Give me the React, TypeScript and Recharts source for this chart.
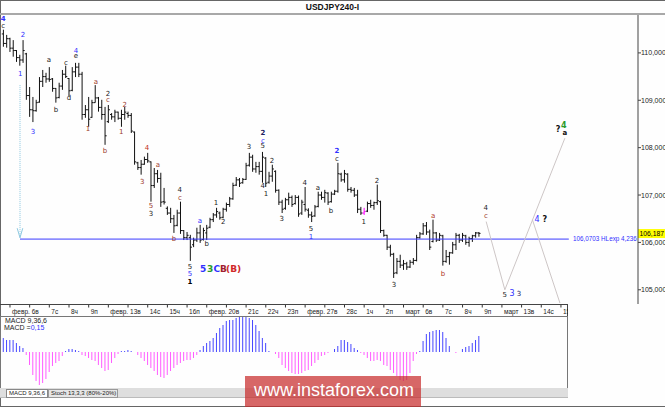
import React from 'react';
import { ComposedChart, Bar, Scatter, XAxis, YAxis, ReferenceLine, Cell } from 'recharts';

// USDJPY H4 bars, Feb 2 16:00 .. Mar 8 20:00
const opens = [
  110.4, 110.2, 110.3, 110.1, 110.05, 109.9, 109.85, 109.98, 109.1, 108.8,
  108.78, 108.96, 109.4, 109.5, 109.45, 109.45, 109.25, 109.06, 109.3, 109.55,
  109.46, 109.21, 109.6, 109.7, 109.55, 108.7, 108.8, 108.64, 108.95, 109.05,
  108.85, 108.7, 108.55, 108.7, 108.65, 108.75, 108.62, 108.7, 108.72, 108.68,
  108.33, 107.68, 107.58, 107.65, 107.75, 107.7, 107.2, 107.45, 107.35, 106.86,
  106.72, 106.62, 106.5, 106.36, 106.62, 106.25, 106.1, 106.1, 105.95, 106.05,
  106.2, 106.06, 106.2, 106.32, 106.48, 106.58, 106.62, 106.53, 106.7, 106.8,
  106.92, 107.21, 107.32, 107.26, 107.33, 107.63, 107.8, 107.55, 107.6, 107.5,
  107.78, 107.27, 107.4, 107.5, 107.1, 106.85, 106.72, 106.9, 106.95, 106.82,
  106.95, 106.62, 106.8, 106.68, 106.58, 106.56, 106.76, 107.0, 106.95, 107.04,
  106.86, 107.02, 107.08, 107.44, 107.32, 107.44, 107.12, 107.1, 107.0, 106.7,
  106.62, 106.66, 106.82, 106.78, 106.84, 106.86, 106.25, 106.15, 105.9, 105.75,
  105.36, 105.6, 105.52, 105.55, 105.48, 105.58, 105.62, 106.1, 106.18, 106.35,
  106.22, 106.02, 106.2, 106.05, 106.14, 105.6, 105.7, 105.78, 105.95, 106.15,
  106.05, 106.14, 106.0, 106.08, 106.14, 106.2,
];
const highs = [
  110.49, 110.38, 110.32, 110.27, 110.06, 109.96, 110.27, 110.0, 109.28, 109.07,
  109.01, 109.49, 109.64, 109.58, 109.7, 109.47, 109.26, 109.37, 109.64, 109.73,
  109.47, 109.7, 109.79, 109.79, 109.6, 108.9, 109.07, 109.01, 109.32, 109.07,
  109.01, 108.86, 108.9, 108.73, 108.8, 108.76, 108.8, 108.86, 108.76, 108.73,
  108.34, 107.7, 107.74, 107.81, 107.89, 107.71, 107.57, 107.53, 107.47, 107.15,
  106.76, 106.73, 106.58, 106.69, 106.86, 106.26, 106.22, 106.16, 106.1, 106.31,
  106.37, 106.31, 106.37, 106.52, 106.62, 106.73, 106.65, 106.73, 106.84, 106.96,
  107.26, 107.38, 107.36, 107.36, 107.68, 107.89, 107.85, 107.7, 107.7, 107.91,
  107.8, 107.49, 107.64, 107.52, 107.12, 106.9, 106.94, 107.05, 106.99, 107.0,
  106.99, 106.9, 107.17, 106.72, 106.65, 106.79, 107.07, 107.07, 107.11, 107.06,
  107.07, 107.11, 107.68, 107.47, 107.53, 107.46, 107.17, 107.15, 107.11, 106.75,
  106.73, 106.86, 106.9, 106.86, 107.22, 106.88, 106.27, 106.16, 105.95, 105.78,
  105.67, 105.74, 105.63, 105.59, 105.63, 105.67, 106.16, 106.22, 106.41, 106.43,
  106.27, 106.48, 106.22, 106.2, 106.16, 105.84, 105.8, 106.01, 106.2, 106.18,
  106.2, 106.16, 106.12, 106.16, 106.22, 106.22,
];
const lows = [
  110.13, 110.11, 110.02, 109.92, 109.81, 109.73, 109.79, 109.01, 108.65, 108.54,
  108.76, 108.95, 109.28, 109.37, 109.39, 109.18, 108.95, 109.04, 109.22, 109.47,
  109.09, 109.19, 109.49, 109.49, 108.59, 108.63, 108.44, 108.63, 108.95, 108.76,
  108.59, 108.06, 108.52, 108.59, 108.54, 108.59, 108.44, 108.59, 108.63, 108.31,
  107.64, 107.53, 107.43, 107.64, 107.68, 106.86, 107.15, 107.26, 106.75, 106.8,
  106.58, 106.41, 106.2, 106.34, 106.18, 106.05, 106.05, 105.61, 105.9, 106.01,
  105.99, 106.04, 106.05, 106.3, 106.43, 106.52, 106.48, 106.51, 106.65, 106.75,
  106.9, 107.19, 107.17, 107.24, 107.32, 107.6, 107.49, 107.47, 107.43, 107.26,
  107.17, 107.24, 107.28, 107.05, 106.79, 106.62, 106.69, 106.79, 106.75, 106.8,
  106.54, 106.58, 106.65, 106.52, 106.43, 106.54, 106.74, 106.9, 106.84, 106.79,
  106.84, 107.0, 107.05, 107.28, 107.26, 107.07, 107.05, 106.96, 106.62, 106.58,
  106.58, 106.64, 106.73, 106.69, 106.79, 106.2, 106.12, 105.84, 105.7, 105.25,
  105.33, 105.46, 105.42, 105.42, 105.46, 105.53, 105.6, 106.08, 106.16, 106.16,
  105.84, 106.0, 106.01, 106.03, 105.51, 105.57, 105.53, 105.76, 105.84, 105.99,
  106.01, 105.95, 105.91, 106.01, 106.1, 106.12,
];
const closes = [
  110.2, 110.3, 110.1, 110.05, 109.9, 109.85, 110.05, 109.1, 108.8, 108.78,
  108.95, 109.4, 109.5, 109.45, 109.44, 109.25, 109.05, 109.3, 109.55, 109.5,
  109.2, 109.6, 109.7, 109.55, 108.7, 108.8, 108.6, 108.95, 109.05, 108.85,
  108.7, 108.25, 108.8, 108.65, 108.75, 108.62, 108.7, 108.75, 108.68, 108.35,
  107.7, 107.58, 107.65, 107.75, 107.72, 107.2, 107.45, 107.35, 106.85, 106.85,
  106.62, 106.5, 106.35, 106.62, 106.25, 106.1, 106.15, 105.9, 106.05, 106.2,
  106.05, 106.25, 106.3, 106.48, 106.58, 106.65, 106.52, 106.7, 106.8, 106.92,
  107.2, 107.32, 107.25, 107.33, 107.62, 107.8, 107.55, 107.6, 107.5, 107.8,
  107.25, 107.4, 107.55, 107.1, 106.85, 106.7, 106.9, 106.95, 106.8, 106.95,
  106.6, 106.85, 106.7, 106.58, 106.55, 106.75, 107.0, 106.95, 107.05, 106.85,
  107.02, 107.08, 107.45, 107.32, 107.45, 107.12, 107.1, 107.0, 106.7, 106.62,
  106.65, 106.82, 106.78, 106.84, 106.88, 106.25, 106.15, 105.9, 105.75, 105.35,
  105.6, 105.52, 105.55, 105.48, 105.58, 105.62, 106.1, 106.18, 106.35, 106.22,
  105.9, 106.2, 106.05, 106.15, 105.6, 105.7, 105.78, 105.95, 106.15, 106.05,
  106.15, 106.0, 106.08, 106.14, 106.2, 106.19,
];
// MACD 9,36,6 histogram
const macd = [
  0.14, 0.12, 0.12, 0.12, 0.09, 0.06, 0.04, -0.03, -0.13, -0.23,
  -0.29, -0.33, -0.31, -0.27, -0.2, -0.14, -0.11, -0.09, -0.04, 0.01,
  0.03, 0.03, 0.02, 0.01, -0.03, -0.04, -0.06, -0.08, -0.09, -0.13,
  -0.16, -0.19, -0.18, -0.11, -0.06, -0.02, 0.01, 0.01, 0.02, 0.01,
  0.0, -0.03, -0.06, -0.09, -0.13, -0.16, -0.19, -0.23, -0.25, -0.26,
  -0.23, -0.19, -0.16, -0.13, -0.11, -0.09, -0.08, -0.08, -0.06, -0.03,
  0.02, 0.06, 0.09, 0.11, 0.14, 0.19, 0.24, 0.27, 0.31, 0.32,
  0.32, 0.34, 0.35, 0.35, 0.35, 0.34, 0.32, 0.27, 0.21, 0.14,
  0.09, 0.01, 0.0, -0.02, -0.06, -0.13, -0.16, -0.19, -0.21, -0.22,
  -0.22, -0.21, -0.19, -0.18, -0.14, -0.11, -0.08, -0.04, -0.03, -0.01,
  0.0, 0.03, 0.06, 0.12, 0.12, 0.1, 0.08, 0.04, 0.02, -0.01,
  -0.03, -0.06, -0.09, -0.09, -0.08, -0.09, -0.13, -0.14, -0.18, -0.21,
  -0.24, -0.28, -0.29, -0.28, -0.21, -0.09, -0.02, 0.01, 0.11, 0.18,
  0.2, 0.21, 0.22, 0.22, 0.2, 0.14, 0.06, 0.0, -0.01, 0.0,
  0.03, 0.05, 0.06, 0.09, 0.12, 0.16,
];
const dayLabels = [
  'февр.', '6в', '7с', '8ч', '9п', 'февр.', '13в', '14с', '15ч', '16п',
  'февр.', '20в', '21с', '22ч', '23п', 'февр.', '27в', '28с', '1ч', '2п',
  'март', '6в', '7с', '8ч', '9п', 'март', '13в', '14с', '15',
];
const priceTicks = [105, 106, 107, 108, 109, 110];
const lastPrice = 106.187;
const hlLevel = 106.0703;
const markedBars = [110];

const BLUE = '#3030ff';
const DARK = '#222';
const BROWN = '#9c3b2c';

// wave marks: bar index, price, text
const waveLabels = [
  { i: -0.1, p: 110.72, t: '4', c: BLUE, b: 1 },
  { i: -0.1, p: 110.57, t: 'c', c: DARK },
  { i: 6, p: 110.38, t: '2', c: BLUE },
  { i: 5.1, p: 109.56, t: '1', c: BLUE },
  { i: 9, p: 108.35, t: '3', c: BLUE },
  { i: 13.9, p: 109.85, t: 'a', c: DARK },
  { i: 16, p: 108.8, t: 'b', c: DARK },
  { i: 19.1, p: 109.79, t: 'c', c: DARK },
  { i: 20, p: 109.05, t: 'd', c: DARK },
  { i: 22.1, p: 110.06, t: '4', c: BLUE },
  { i: 22.1, p: 109.94, t: 'e', c: DARK },
  { i: 25.8, p: 108.4, t: '1', c: BROWN },
  { i: 28.2, p: 109.39, t: 'a', c: BROWN },
  { i: 31, p: 107.93, t: 'b', c: BROWN },
  { i: 31.9, p: 109.14, t: '2', c: DARK },
  { i: 31.9, p: 109.01, t: 'c', c: BROWN },
  { i: 37, p: 108.9, t: '2', c: BROWN },
  { i: 35.9, p: 108.33, t: '1', c: BROWN },
  { i: 42.3, p: 107.28, t: '3', c: BROWN },
  { i: 43.8, p: 108.0, t: '4', c: '#c03020' },
  { i: 47.1, p: 107.64, t: 'a', c: BROWN },
  { i: 45, p: 106.77, t: '5', c: BROWN },
  { i: 45, p: 106.6, t: '3', c: DARK },
  { i: 52, p: 106.08, t: 'b', c: BROWN },
  { i: 53.8, p: 107.11, t: '4', c: DARK },
  { i: 53.8, p: 106.94, t: 'c', c: BROWN },
  { i: 56.9, p: 105.49, t: '5', c: DARK },
  { i: 56.9, p: 105.34, t: '5', c: BLUE },
  { i: 56.9, p: 105.17, t: '1', c: '#000', b: 1 },
  { i: 59.9, p: 106.46, t: 'a', c: BLUE },
  { i: 62, p: 105.97, t: 'b', c: DARK },
  { i: 64.8, p: 106.84, t: '1', c: DARK },
  { i: 67, p: 106.43, t: '2', c: DARK },
  { i: 74.9, p: 108.02, t: '3', c: DARK },
  { i: 79.1, p: 108.31, t: '2', c: '#202060', b: 1 },
  { i: 79.1, p: 108.16, t: 'c', c: BLUE },
  { i: 79.1, p: 108.04, t: '5', c: DARK },
  { i: 79.1, p: 107.19, t: '4', c: DARK },
  { i: 80.1, p: 107.03, t: '1', c: DARK },
  { i: 81.9, p: 107.72, t: '2', c: DARK },
  { i: 84.9, p: 106.5, t: '3', c: DARK },
  { i: 91.9, p: 107.26, t: '4', c: DARK },
  { i: 93.8, p: 106.29, t: '5', c: DARK },
  { i: 93.8, p: 106.12, t: '1', c: BLUE },
  { i: 95.9, p: 107.15, t: 'a', c: DARK },
  { i: 99.9, p: 106.67, t: 'b', c: DARK },
  { i: 101.7, p: 107.93, t: '2', c: BLUE, b: 1 },
  { i: 101.7, p: 107.78, t: 'c', c: DARK },
  { i: 109.9, p: 106.43, t: '1', c: DARK },
  { i: 113.9, p: 107.3, t: '2', c: DARK },
  { i: 119.1, p: 105.11, t: '3', c: DARK },
  { i: 131, p: 106.56, t: 'a', c: '#b03828' },
  { i: 134, p: 105.34, t: 'b', c: '#b03828' },
  { i: 147.1, p: 106.73, t: '4', c: DARK },
  { i: 147.1, p: 106.56, t: 'c', c: BROWN },
  { i: 152.9, p: 104.89, t: '5', c: DARK },
  { i: 155.1, p: 104.92, t: '3', c: BLUE, s: 8 },
  { i: 157.2, p: 104.92, t: '3', c: '#202060' },
  { i: 162.7, p: 106.5, t: '4', c: BLUE, s: 8 },
  { i: 165.1, p: 106.48, t: '?', c: '#111', b: 1, s: 8 },
  { i: 169.1, p: 108.4, t: '?', c: '#111', b: 1, s: 8 },
  { i: 170.9, p: 108.48, t: '4', c: '#2a9a2a', b: 1, s: 8 },
  { i: 171.2, p: 108.31, t: 'a', c: '#111', b: 1 },
  { i: 60.9, p: 105.44, t: '5', c: BLUE, b: 1, s: 9 },
  { i: 63, p: 105.44, t: '3', c: '#2a9a2a', b: 1, s: 9 },
  { i: 65.1, p: 105.44, t: 'C', c: BLUE, b: 1, s: 9 },
  { i: 67.1, p: 105.44, t: 'B', c: '#a02030', b: 1, s: 9 },
  { i: 70.2, p: 105.44, t: '(B)', c: '#d02828', b: 1, s: 9 },
  { i: 173.7, p: hlLevel, t: '106,0703 HLexp 4,236', c: BLUE, a: 'start', s: 6.3, f: 'Liberation Sans, sans-serif' },
];

// forecast path
const projection = [
  [{ x: 147.2, y: 106.44 }, { x: 152.9, y: 105.0 }],
  [{ x: 152.9, y: 105.0 }, { x: 171.2, y: 108.2 }],
  [{ x: 161.3, y: 106.48 }, { x: 169.7, y: 104.72 }],
];

const ohlcRows = opens.map((o, i) => ({
  i,
  o,
  h: highs[i],
  l: lows[i],
  c: closes[i],
  range: [lows[i], highs[i]],
}));
const macdRows = macd.map((v, i) => ({ i, v }));
const dayTicks = dayLabels.map((_, d) => 2 + d * 6);

const fmtPrice = (v: number) => v.toFixed(3).replace('.', ',');

function OhlcBar(props: any) {
  const { x, y, width, height, payload } = props;
  if (x == null || y == null || !payload) return null;
  const cx = x + width / 2;
  const span = payload.h - payload.l || 1;
  const at = (v: number) => y + ((payload.h - v) / span) * height;
  const stroke = markedBars.includes(payload.i) ? '#ff00ff' : '#111';
  return (
    <g stroke={stroke} strokeWidth={1}>
      <line x1={cx} y1={y} x2={cx} y2={y + Math.max(height, 1)} />
      <line x1={cx - 1.6} y1={at(payload.o)} x2={cx} y2={at(payload.o)} />
      <line x1={cx} y1={at(payload.c)} x2={cx + 1.6} y2={at(payload.c)} />
    </g>
  );
}

function WaveLabel(props: any) {
  const { cx, cy, payload } = props;
  if (cx == null || !payload) return null;
  return (
    <text
      x={cx}
      y={cy}
      dy="0.35em"
      textAnchor={payload.a || 'middle'}
      fill={payload.c}
      fontSize={payload.s || 7}
      fontWeight={payload.b ? 'bold' : 'normal'}
      fontFamily={payload.f || 'DejaVu Sans, sans-serif'}
    >
      {payload.t}
    </text>
  );
}

function PriceBadge(props: any) {
  const vb = props.viewBox;
  if (!vb) return null;
  const left = vb.x + vb.width;
  return (
    <g>
      <rect x={left} y={vb.y - 4.5} width={27} height={9} fill="#ffff00" />
      <text x={left + 1.5} y={vb.y + 2.8} fontSize={6.8} fill="#000" fontFamily="Liberation Sans, sans-serif">
        {fmtPrice(lastPrice)}
      </text>
    </g>
  );
}

function TimeTick(props: any) {
  const { x, index } = props;
  return (
    <g>
      <line x1={x} y1={1} x2={x} y2={3.5} stroke="#333" />
      <text x={x + 2} y={10} fontSize={6.5} fill="#222" fontFamily="Liberation Sans, sans-serif">
        {dayLabels[index]}
      </text>
    </g>
  );
}

const abs = (left: number, top: number, width: number, height: number): React.CSSProperties => ({
  position: 'absolute',
  left,
  top,
  width,
  height,
  boxSizing: 'border-box',
});

export default function App() {
  return (
    <div
      style={{
        ...abs(0, 0, 665, 407),
        background: '#fefefe',
        overflow: 'hidden',
        fontFamily: 'Liberation Sans, Arial, sans-serif',
      }}
    >
      {/* frame and title */}
      <div style={{ ...abs(0, 0, 665, 1), background: '#666' }} />
      <div style={{ ...abs(0, 0, 1, 407), background: '#666' }} />
      <div style={{ ...abs(0, 406, 665, 1), background: '#666' }} />
      <div
        style={{
          ...abs(0, 1, 665, 12),
          textAlign: 'center',
          fontSize: 8.5,
          fontWeight: 'bold',
          lineHeight: '12px',
          color: '#111',
        }}
      >
        USDJPY240-I
      </div>
      <div style={{ ...abs(0, 13, 665, 2), background: '#a8a8a8' }} />

      {/* price chart */}
      <div style={abs(0, 15, 665, 289)}>
        <ComposedChart width={665} height={289} data={ohlcRows} margin={{ top: 0, right: 0, bottom: 0, left: 0 }}>
          <XAxis type="number" dataKey="i" domain={[-1.04, 193.5]} allowDataOverflow hide />
          <YAxis
            orientation="right"
            domain={[104.7, 110.8]}
            allowDataOverflow
            ticks={priceTicks}
            width={27}
            tickSize={3}
            tickMargin={0}
            stroke="#444"
            tickFormatter={fmtPrice}
            tick={{ fontSize: 7, fill: '#222', fontFamily: 'Liberation Sans, sans-serif' }}
          />
          <ReferenceLine
            segment={[{ x: 5.06, y: 109.32 }, { x: 5.06, y: 106.1 }]}
            stroke="#8cc8e0"
            strokeDasharray="1 1"
          />
          <ReferenceLine segment={[{ x: 4.2, y: 106.3 }, { x: 5.06, y: 106.1 }]} stroke="#8cc8e0" />
          <ReferenceLine segment={[{ x: 5.9, y: 106.3 }, { x: 5.06, y: 106.1 }]} stroke="#8cc8e0" />
          <ReferenceLine segment={[{ x: 5.06, y: hlLevel }, { x: 172.4, y: hlLevel }]} stroke="#3a3aff" />
          {projection.map((seg, k) => (
            <ReferenceLine key={k} segment={seg} stroke="#cdc6c6" />
          ))}
          <ReferenceLine y={lastPrice} stroke="none" label={PriceBadge} />
          <Bar dataKey="range" barSize={1} shape={OhlcBar} isAnimationActive={false} />
          <Scatter data={waveLabels} dataKey="p" shape={WaveLabel} isAnimationActive={false} />
        </ComposedChart>
      </div>

      {/* time axis + MACD */}
      <div style={{ ...abs(0, 304, 568, 1), background: '#444' }} />
      <div style={{ ...abs(567, 304, 1, 12), background: '#444' }} />
      <div style={abs(0, 304, 568, 84)}>
        <ComposedChart width={568} height={84} data={macdRows} margin={{ top: 0, right: 0, bottom: 0, left: 0 }}>
          <XAxis
            type="number"
            dataKey="i"
            orientation="top"
            height={12}
            domain={[-1.04, 172.15]}
            allowDataOverflow
            ticks={dayTicks}
            interval={0}
            axisLine={false}
            tickLine={false}
            tick={TimeTick}
          />
          <YAxis hide domain={[-0.36, 0.36]} allowDataOverflow />
          <Bar dataKey="v" barSize={1} isAnimationActive={false}>
            {macdRows.map((r) => (
              <Cell key={r.i} fill={r.v >= 0 ? '#4646ff' : '#ff5cff'} />
            ))}
          </Bar>
        </ComposedChart>
      </div>
      <div style={{ ...abs(0, 316, 568, 73), border: '1px solid #777', pointerEvents: 'none' }} />
      <div style={{ ...abs(5, 317, 80, 8), fontSize: 7, lineHeight: '8px', color: '#222' }}>MACD 9,36,6</div>
      <div style={{ ...abs(4, 324, 80, 8), fontSize: 7, lineHeight: '8px', color: '#222' }}>
        MACD =<span style={{ color: BLUE }}>0,15</span>
      </div>

      {/* indicator tabs */}
      <div style={{ ...abs(0, 388, 568, 10), background: '#dedede', borderBottom: '1px solid #bbb' }} />
      <div
        style={{
          ...abs(6, 389, 42, 9),
          background: '#fff',
          border: '1px solid #888',
          fontSize: 6,
          lineHeight: '7px',
          paddingLeft: 2,
          color: '#222',
        }}
      >
        MACD 9,36,6
      </div>
      <div
        style={{
          ...abs(48, 389, 70, 9),
          background: '#e6e6e6',
          border: '1px solid #999',
          fontSize: 6,
          lineHeight: '7px',
          paddingLeft: 2,
          color: '#222',
        }}
      >
        Stoch 13,3,3 (80%-20%)
      </div>

      {/* watermark */}
      <div
        style={{
          ...abs(245, 376, 176, 31),
          background: 'rgba(200, 45, 45, 0.72)',
          color: '#fff',
          fontSize: 18,
          lineHeight: '28px',
          paddingLeft: 9,
          whiteSpace: 'nowrap',
        }}
      >
        www.instaforex.com
      </div>
    </div>
  );
}
